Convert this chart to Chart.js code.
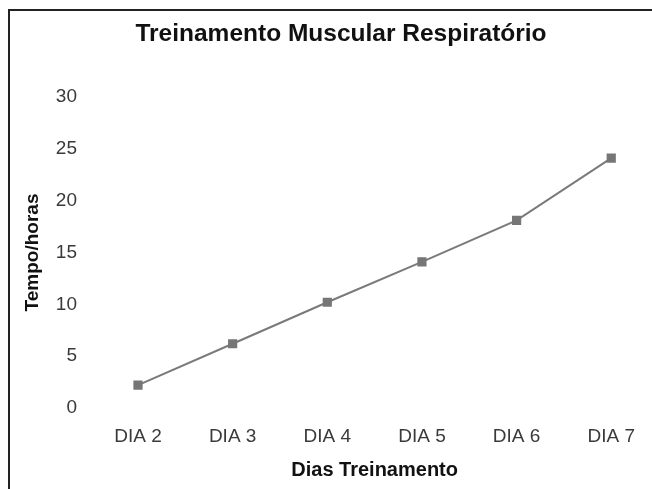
<!DOCTYPE html>
<html>
<head>
<meta charset="utf-8">
<script src="https://cdn.jsdelivr.net/npm/chart.js@4.4.1/dist/chart.umd.min.js"></script>
<style>
    html, body { margin: 0; padding: 0; background: #fff; }
    #wrap { position: relative; width: 652px; height: 489px; }
    #frame { position: absolute; left: 8px; top: 9px; right: -2px; bottom: -2px; border-left: 2px solid #222; border-top: 2px solid #222; pointer-events: none; }
    canvas { position: absolute; left: 0; top: 0; }
</style>
</head>
<body>
<div id="wrap">
    <canvas id="chartTreino" width="652" height="489"></canvas>
    <div id="frame"></div>
</div>
<script>
// Datos del gráfico
const dias = ['DIA 2', 'DIA 3', 'DIA 4', 'DIA 5', 'DIA 6', 'DIA 7'];
const tempoHoras = [2.2, 6.2, 10.2, 14.1, 18.1, 24.1];

const fonte = '"Liberation Sans", Arial, sans-serif';

const ctx = document.getElementById('chartTreino').getContext('2d');
const chartTreino = new Chart(ctx, {
    type: 'line',
    data: {
        labels: dias,
        datasets: [{
            label: 'Tempo/horas',
            data: tempoHoras,
            yAxisID: 'y',
            borderColor: '#7a7a7a',
            borderWidth: 2,
            backgroundColor: '#767676',
            pointStyle: 'rect',
            pointRadius: 6.5,
            pointBorderWidth: 0,
            tension: 0
        }]
    },
    options: {
        responsive: false,
        animation: false,
        layout: {
            padding: { left: 44, right: 14, top: 0, bottom: 7 }
        },
        plugins: {
            legend: { display: false },
            tooltip: { enabled: false },
            title: {
                display: true,
                text: 'Treinamento Muscular Respiratório',
                color: '#111',
                font: { family: fonte, size: 24.5, weight: 'bold' },
                padding: { top: 20, bottom: 47.6 }
            }
        },
        scales: {
            x: {
                offset: false,
                grid: { display: false, drawTicks: false },
                border: { display: false },
                ticks: {
                    color: '#3a3a3a',
                    font: { family: fonte, size: 19 },
                    padding: 17,
                    maxRotation: 0
                },
                title: {
                    display: true,
                    text: 'Dias Treinamento',
                    color: '#111',
                    font: { family: fonte, size: 20, weight: 'bold' },
                    padding: { top: 0, bottom: 0 }
                },
                afterFit: function (scale) {
                    scale.height = 74;
                }
            },
            y: {
                min: 0,
                max: 30,
                grid: { display: false, drawTicks: false },
                border: { display: false },
                ticks: {
                    stepSize: 5,
                    color: '#3a3a3a',
                    font: { family: fonte, size: 19 },
                    padding: 61
                },
                title: {
                    display: true,
                    text: 'Tempo/horas',
                    color: '#111',
                    font: { family: fonte, size: 19, weight: 'bold' },
                    // título desplazado hacia el borde izquierdo
                    padding: { top: -22.4, bottom: 0 }
                },
                afterFit: function (scale) {
                    scale.width = 94;
                }
            },
            // eje vacío a la derecha, sólo para reservar espacio
            yDerecha: {
                type: 'linear',
                position: 'right',
                grid: { display: false, drawTicks: false },
                border: { display: false },
                ticks: { display: false },
                afterFit: function (scale) {
                    scale.width = 11;
                }
            }
        }
    }
});
</script>
</body>
</html>
